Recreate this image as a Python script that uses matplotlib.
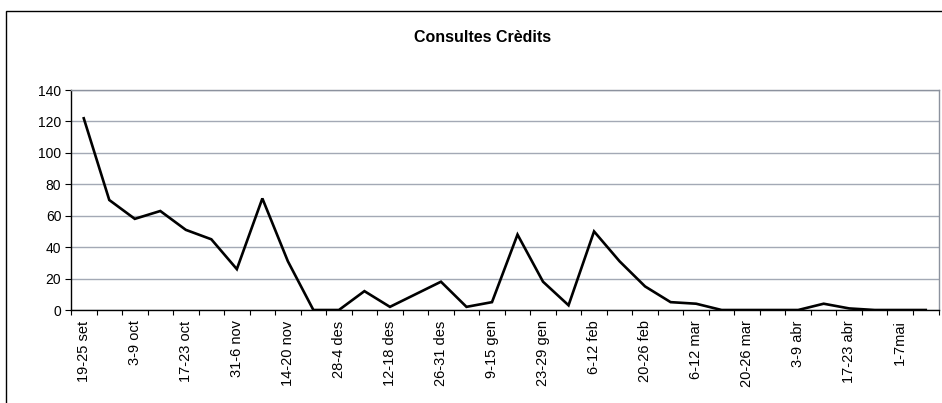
import matplotlib
matplotlib.use("Agg")
import matplotlib.pyplot as plt
from matplotlib.patches import Rectangle

weeks = ["19-25 set", "", "3-9 oct", "", "17-23 oct", "", "31-6 nov", "", "14-20 nov", "",
         "28-4 des", "", "12-18 des", "", "26-31 des", "", "9-15 gen", "", "23-29 gen", "",
         "6-12 feb", "", "20-26 feb", "", "6-12 mar", "", "20-26 mar", "", "3-9 abr", "",
         "17-23 abr", "", "1-7mai", ""]
values = [122, 70, 58, 63, 51, 45, 26, 71, 31, 0,
          0, 12, 2, 10, 18, 2, 5, 48, 18, 3,
          50, 31, 15, 5, 4, 0, 0, 0, 0, 4,
          1, 0, 0, 0]
title = "Consultes Crèdits"
yticks = [0, 20, 40, 60, 80, 100, 120, 140]

plt.rcParams['font.family'] = ['Liberation Sans', 'DejaVu Sans']

fig = plt.figure(figsize=(9.42, 4.03), dpi=100)
fig.patches.append(Rectangle((6/942, -0.1), 1.2, 1 - 11/403 + 0.1, transform=fig.transFigure,
                             fill=False, edgecolor='black', linewidth=1.0))
ax = fig.add_axes([71/942, 1 - 310/403, (938.5 - 71)/942, (310 - 90)/403])

n = len(values)
x = list(range(n))
ax.plot(x, values, color='black', linewidth=1.9, solid_joinstyle='miter', zorder=3)

ax.set_xlim(-0.5, n - 0.5)
ax.set_ylim(0, 140)
ax.set_yticks(yticks)
ax.yaxis.grid(True, color='#a3a9b5', linewidth=1.0)
ax.set_axisbelow(True)

ax.set_xticks([i - 0.5 for i in range(n + 1)])
ax.set_xticklabels([])
ax.tick_params(axis='x', which='major', direction='out', length=3.5, width=0.8, color='black')
ax.set_xticks(x, minor=True)
ax.set_xticklabels(weeks, minor=True, rotation=90, fontsize=10.5)
ax.tick_params(axis='x', which='minor', length=0, pad=7.5)
ax.tick_params(axis='y', direction='out', length=4, width=0.8, labelsize=10, pad=3)

for s in ['left', 'bottom']:
    ax.spines[s].set_color('black')
    ax.spines[s].set_linewidth(1.0)
for s in ['top', 'right']:
    ax.spines[s].set_color('#8c929e')
    ax.spines[s].set_linewidth(1.0)

fig.text(483/942, 1 - 37/403, title, ha='center', va='center', fontsize=11.5, fontweight='bold')

fig.savefig("out.png", dpi=100)
